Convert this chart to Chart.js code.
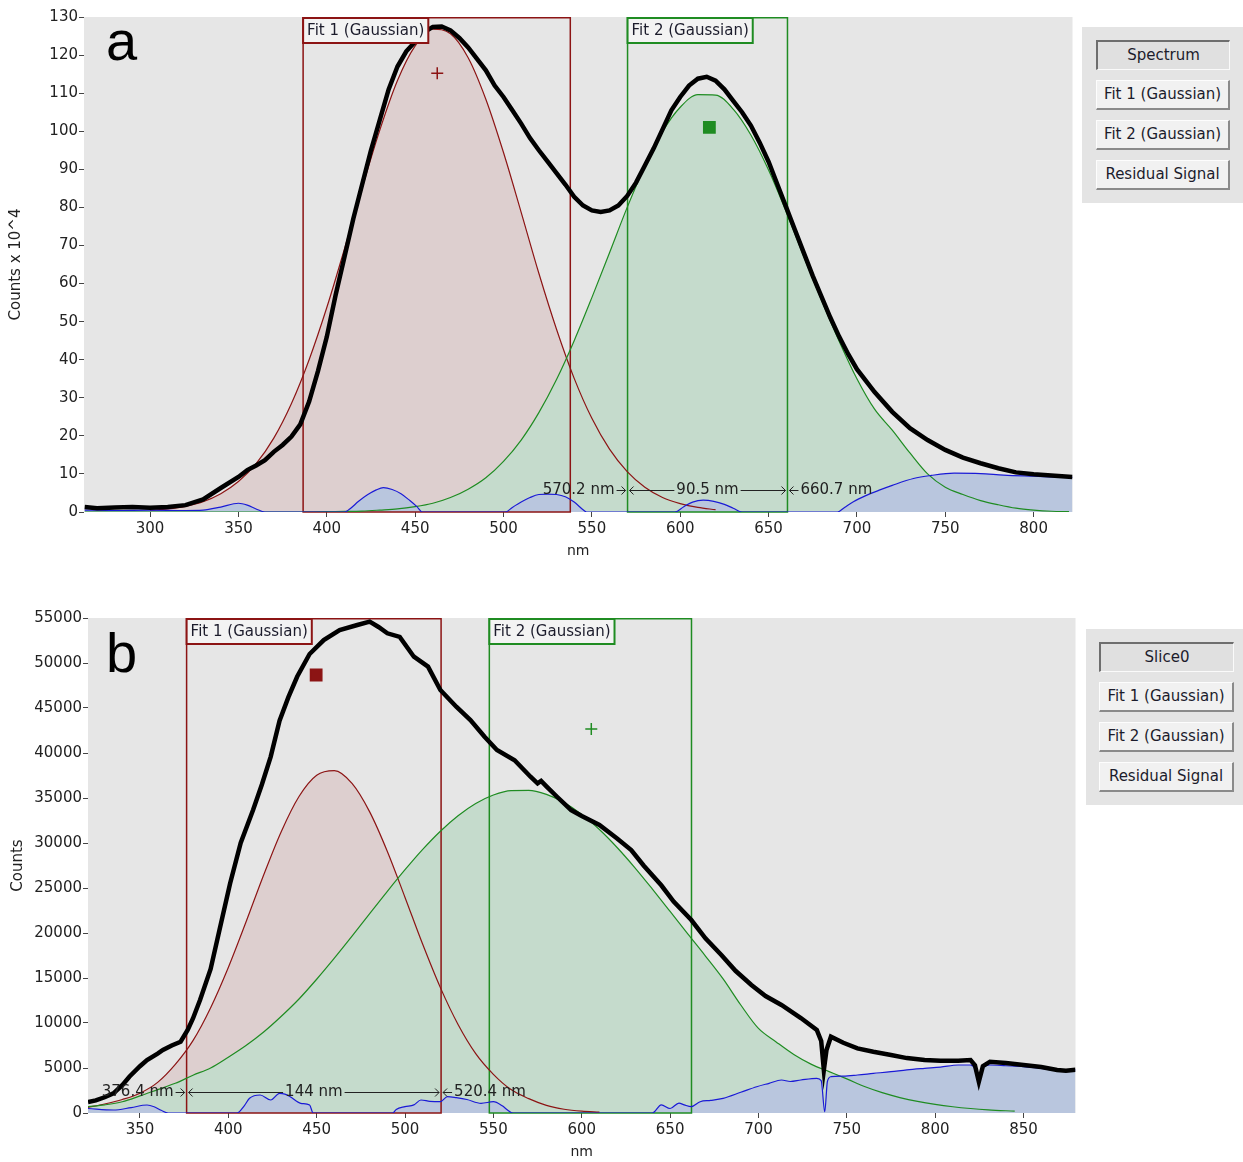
<!DOCTYPE html>
<html>
<head>
<meta charset="utf-8">
<script src="https://cdn.jsdelivr.net/npm/chart.js@4.4.1/dist/chart.umd.min.js"></script>
<style>
  body { margin: 0; background: #fff; width: 1243px; height: 1162px; position: relative; overflow: hidden; font-family: "DejaVu Sans", sans-serif; }
  .plot { position: absolute; left: 0; }
  #wrapA { top: 0; width: 1082px; height: 570px; }
  #wrapB { top: 600px; width: 1085px; height: 562px; }
  .panel { position: absolute; background: #e4e4e4; }
  #panelA { left: 1082px; top: 27px; width: 161px; height: 176px; }
  #panelB { left: 1086px; top: 629px; width: 157px; height: 176px; }
  .btn { position: absolute; height: 30px; box-sizing: border-box; text-align: center; font-size: 15px; line-height: 27px; color: #1c1c2c;
         background: #f1f1f1; border-top: 1px solid #fdfdfd; border-left: 1px solid #fdfdfd; border-right: 2px solid #8a8a8a; border-bottom: 2px solid #8a8a8a; }
  .btn.on { background: #e0e0e0; border-top: 2px solid #6e6e6e; border-left: 2px solid #6e6e6e; border-right: 1px solid #fafafa; border-bottom: 1px solid #fafafa; }
  #panelA .btn { left: 14px; width: 134px; }
  #panelB .btn { left: 13px; width: 135px; }
</style>
</head>
<body>
<div class="plot" id="wrapA"><canvas id="chartA"></canvas></div>
<div class="plot" id="wrapB"><canvas id="chartB"></canvas></div>

<div class="panel" id="panelA">
  <div class="btn on" style="top:13px">Spectrum</div>
  <div class="btn" style="top:53px">Fit 1 (Gaussian)</div>
  <div class="btn" style="top:93px">Fit 2 (Gaussian)</div>
  <div class="btn" style="top:133px">Residual Signal</div>
</div>
<div class="panel" id="panelB">
  <div class="btn on" style="top:13px">Slice0</div>
  <div class="btn" style="top:53px">Fit 1 (Gaussian)</div>
  <div class="btn" style="top:93px">Fit 2 (Gaussian)</div>
  <div class="btn" style="top:133px">Residual Signal</div>
</div>

<script>
// ---- panel a : counts x 10^4 ----
const specA_nm = [263,270,280,290,300,310,320,330,340,350,355,360,365,370,375,380,385,390,395,400,
  405,410,415,420,425,430,435,440,445,450,455,460,465,470,475,480,485,490,495,500,
  505,510,515,520,525,530,535,540,545,550,555,560,565,570,575,580,585,590,595,600,
  605,610,615,620,625,630,635,640,645,650,655,660,665,670,675,680,685,690,695,700,
  710,720,730,740,750,760,770,780,790,800,810,822];
const specA = [1.3,1.0,1.2,1.3,1.1,1.3,1.8,3.3,6.3,9.2,11.0,12.2,13.6,15.8,17.6,19.8,23.0,29,37,46,
  57,67,77,86,95,103,111,117,121,123.5,126,127.4,127.5,126.5,124.5,122,119,116,112,109,
  105.5,102,98.2,95,92,89,86,82.8,80.5,79.2,78.8,79.2,80.5,83,86.5,91,95.5,100.5,105.5,109,
  112,113.8,114.3,113.3,111,108,105,101.5,97,92,86,80,74,68,62,56.5,51,46,41.5,37.5,
  31.5,26.3,22,18.9,16.3,14.3,12.8,11.5,10.4,9.9,9.6,9.2];

const fit1A_nm = [300,310,320,330,340,350,360,370,380,390,400,410,420,430,440,450,460,470,480,490,
  500,510,520,530,540,550,560,570,580,590,600,610,620];
const fit1A = [0.4,0.8,1.5,2.7,4.8,8.0,12.7,19.4,28.5,40.0,53.7,69.1,85.1,100.3,113.3,122.4,126.8,125.6,119.3,108.4,
  94.4,78.7,62.7,48.0,35.1,24.6,16.5,10.6,6.5,3.8,2.2,1.2,0.6];

const fit2A_nm = [263,300,340,380,390,400,410,420,430,440,450,460,470,480,490,500,510,520,530,540,
  550,560,570,580,590,600,610,620,630,640,650,660,670,680,690,700,710,720,730,740,
  750,760,770,780,790,800,810,820];
const fit2A = [0,0,0,0,0,0.1,0.15,0.25,0.5,0.8,1.4,2.3,3.8,6.0,9.0,13.3,18.9,26.1,34.8,45.0,
  56.3,68.1,80.0,90.8,99.9,106.3,109.6,109.5,105.8,99.0,89.8,78.8,67.0,55.6,44.8,35.0,27.0,21.5,15.5,10.0,
  6.5,4.6,3.0,1.9,1.0,0.5,0.2,0.1];

const residA_nm = [263,280,300,320,330,340,350,355,360,365,410,413,418,423,428,432,437,442,447,451,
  454,501,505,510,515,520,525,530,535,540,545,547,597,602,607,613,619,625,630,635,
  689,693,698,705,713,720,732,742,755,770,783,800,818,822];
const residA = [0.5,0.4,0.5,0.4,0.5,1.3,2.3,1.8,0.8,0,0,0.8,2.8,4.5,5.8,6.4,5.9,4.8,3.0,1.4,
  0,0,1.2,2.6,3.8,4.6,4.7,4.6,4.0,2.6,0.6,0,0,1.4,2.6,3.1,2.8,2.0,1.0,0,
  0,1.2,2.7,4.3,5.8,7.0,8.8,9.6,10.2,10.1,9.7,9.4,9.1,9.1];

const centreA1 = [462.5, 115.2];
const centreA2 = [616.5, 101];
const windowA1 = [386.6, 537.8];
const windowA2 = [570.2, 660.7];

// ---- panel b : raw counts ----
const specB_nm = [320.6,325,330,335,340,344,350,354,360,363,368,373,377,380,384,390,395,401,407,414,
  419,424,429,434,439,446,454,463,473,480,485,490,497,505,513,520,529,537,545,552,
  562,571,575,577,580,586,594,600,610,620,628,635,645,652,662,670,679,687,696,704,
  713,724,733,735.5,737,738.5,741,748,756,765,775,784,794,803,813,820,822.5,824.7,827,831,
  840,850,860,869,874,879.4];
const specB = [1222,1400,1750,2185,3100,4033,5200,5889,6600,7000,7500,7922,9222,10500,12555,16000,20333,25500,30000,33670,
  36500,39600,43600,46200,48500,51000,52550,53660,54220,54590,54000,53300,52900,50700,49600,47000,45140,43660,41800,40330,
  39200,37360,36630,36900,36300,35140,33660,33000,32000,30500,29220,27500,25300,23500,21440,19400,17550,15800,14220,13000,
  12000,10550,9220,8000,4777,7000,8480,7800,7185,6800,6444,6100,5890,5800,5810,5890,5300,3480,5200,5700,
  5550,5330,5100,4780,4700,4800];

const fit1B_nm = [320,330,340,350,360,370,380,390,400,410,420,430,440,450,460,470,480,490,500,510,
  520,530,540,550,560,570,580,590,600,610];
const fit1B = [600,1000,1500,2200,3400,5400,8040,11700,16170,21220,26450,31290,35170,37530,38040,36620,33460,29060,23950,18740,
  13930,9840,6600,4300,2600,1600,850,420,200,100];

const fit2B_nm = [320.6,330,340,350,360,370,380,390,400,410,420,430,440,450,460,470,480,490,500,510,
  520,530,540,550,560,570,580,590,600,610,620,630,640,650,660,670,680,690,700,710,
  720,730,740,750,760,770,780,790,800,810,820,830,845];
const fit2B = [700,900,1250,1900,2600,3300,4200,5000,6200,7500,9000,10750,12670,14860,17200,19640,22150,24630,27030,29290,
  31310,33030,34390,35330,35830,35850,35400,34500,33180,31500,29500,27270,24870,22400,19900,17440,14900,12000,9400,7900,
  6500,5400,4600,3790,2940,2260,1717,1285,950,692,498,353,200];

const residB_nm = [320.6,335,345,354,358,362,366,405,409,412,418,424,429,432,435,441,446,448,493,495,
  500,505,509,514,520,524,529,535,543,550,555,558,561,640,645,650,655,658,662,667,
  673,680,690,699,706,713,718,724,733,735.5,737.5,739,741,748,756,765,775,784,794,803,
  813,820,822.5,824.7,827,831,840,850,860,869,879.4];
const residB = [500,333,600,888,700,300,0,0,800,1633,2000,1444,2185,2100,1811,1077,888,0,0,400,
  700,900,1444,1300,1255,1811,1700,1500,1077,1255,800,333,0,0,900,500,1100,900,700,1255,
  1400,1633,2300,2922,3300,3666,3500,3666,3855,3600,144,3500,4033,4100,4222,4400,4588,4800,4966,5100,
  5333,5333,4900,3666,5000,5333,5250,5150,4950,4777,4800];

const centreB1 = [449.7, 48667];
const centreB2 = [605.4, 42667];
const windowB1 = [376.4, 520.4];
const windowB2 = [547.7, 662.1];

const RED = '#8c1414', GREEN = '#1f8c22', BLUE = '#1a1ad6';

Chart.defaults.font.family = '"DejaVu Sans", sans-serif';
Chart.defaults.font.size = 15;
Chart.defaults.color = '#222';

function pts(xs, ys) {
  return xs.map((x, i) => ({x: x, y: ys[i]}));
}

// grey plot background, fit windows, their tags, the width marker and the panel letter
const fitOverlay = {
  id: 'fitOverlay',
  beforeDraw(chart) {
    const {ctx, chartArea: a} = chart;
    ctx.save();
    ctx.fillStyle = '#e6e6e6';
    ctx.fillRect(a.left, a.top, a.right - a.left, a.bottom - a.top);
    ctx.restore();
  },
  beforeDatasetsDraw(chart, args, opts) {
    const {ctx, chartArea: a, scales: {x, y}} = chart;
    const base = y.getPixelForValue(0);
    ctx.save();
    ctx.lineWidth = 1.5;
    opts.windows.forEach(w => {
      const l = x.getPixelForValue(w.range[0]), r = x.getPixelForValue(w.range[1]);
      ctx.strokeStyle = w.color;
      ctx.strokeRect(l, a.top + 0.75, r - l, base - a.top - 0.75);
    });
    ctx.restore();
  },
  afterDatasetsDraw(chart, args, opts) {
    const {ctx, chartArea: a, scales: {x, y}} = chart;
    ctx.save();
    ctx.font = '15px "DejaVu Sans"';
    ctx.textBaseline = 'middle';
    // tags on the fit windows
    opts.windows.forEach(w => {
      const l = x.getPixelForValue(w.range[0]);
      const tw = ctx.measureText(w.label).width + 8;
      ctx.fillStyle = '#f3f3f3';
      ctx.fillRect(l, a.top, tw, 26);
      ctx.strokeStyle = w.color;
      ctx.lineWidth = 2;
      ctx.strokeRect(l, a.top + 1, tw, 25);
      ctx.fillStyle = '#1c1c2c';
      ctx.textAlign = 'left';
      ctx.fillText(w.label, l + 4, a.top + 14);
    });

    // width marker between the two window edges
    const s = opts.span;
    const l = x.getPixelForValue(s.range[0]), r = x.getPixelForValue(s.range[1]);
    const yy = Math.round(y.getPixelForValue(s.level)) + 0.5;
    const width = Number((s.range[1] - s.range[0]).toFixed(1));
    ctx.strokeStyle = '#222';
    ctx.fillStyle = '#222';
    ctx.lineWidth = 1;
    const chevron = (px, dir) => {
      ctx.beginPath();
      ctx.moveTo(px - 4 * dir, yy - 4);
      ctx.lineTo(px, yy);
      ctx.lineTo(px - 4 * dir, yy + 4);
      ctx.stroke();
    };
    const seg = (x0, x1) => {
      ctx.beginPath(); ctx.moveTo(x0, yy); ctx.lineTo(x1, yy); ctx.stroke();
    };
    seg(l - 11, l - 2); chevron(l - 2, 1);
    seg(r + 2, r + 11); chevron(r + 2, -1);
    const mid = (l + r) / 2;
    const label = width + ' nm';
    const lw = ctx.measureText(label).width;
    seg(l + 2, mid - lw / 2 - 2); chevron(l + 2, -1);
    seg(mid + lw / 2 + 2, r - 2); chevron(r - 2, 1);
    ctx.textAlign = 'center';
    ctx.fillText(label, mid, yy);
    ctx.textAlign = 'right';
    ctx.fillText(s.range[0].toFixed(1) + ' nm', l - 13, yy);
    ctx.textAlign = 'left';
    ctx.fillText(s.range[1].toFixed(1) + ' nm', r + 13, yy);

    // panel letter
    ctx.font = '56px "Liberation Sans"';
    ctx.textAlign = 'left';
    ctx.textBaseline = 'alphabetic';
    ctx.fillStyle = '#000';
    ctx.fillText(opts.letter.text, a.left + opts.letter.dx, a.top + opts.letter.dy);
    ctx.restore();
  }
};

function buildChart(id, cfg) {
  const line = (data, color, width, order, fillColor) => ({
    data: data,
    borderColor: color,
    borderWidth: width,
    backgroundColor: fillColor || 'transparent',
    fill: fillColor ? 'origin' : false,
    pointRadius: 0,
    cubicInterpolationMode: fillColor && width < 2 ? 'monotone' : 'default',
    tension: 0,
    order: order
  });
  return new Chart(document.getElementById(id), {
    type: 'line',
    data: {
      datasets: [
        line(cfg.spectrum, '#000', 4.5, 0),
        line(cfg.resid, BLUE, 1.2, 1, '#b9c6de'),
        line(cfg.fit2, GREEN, 1.2, 2, '#c5dbcc'),
        line(cfg.fit1, RED, 1.2, 3, '#ddcfcf'),
        {
          data: [{x: cfg.mark1[0], y: cfg.mark1[1]}],
          showLine: false, pointStyle: cfg.mark1Style, pointRadius: cfg.mark1Style === 'rect' ? 8 : 6,
          borderWidth: 1.5, borderColor: RED, backgroundColor: RED, order: -1
        },
        {
          data: [{x: cfg.mark2[0], y: cfg.mark2[1]}],
          showLine: false, pointStyle: cfg.mark2Style, pointRadius: cfg.mark2Style === 'rect' ? 8 : 6,
          borderWidth: 1.5, borderColor: GREEN, backgroundColor: GREEN, order: -1
        }
      ]
    },
    options: {
      responsive: true,
      maintainAspectRatio: false,
      animation: false,
      layout: { padding: cfg.padding },
      plugins: {
        legend: { display: false },
        tooltip: { enabled: false },
        filler: { drawTime: 'beforeDatasetsDraw' },
        fitOverlay: {
          windows: [
            { range: cfg.win1, color: RED, label: 'Fit 1 (Gaussian)' },
            { range: cfg.win2, color: GREEN, label: 'Fit 2 (Gaussian)' }
          ],
          span: cfg.span,
          letter: cfg.letter
        }
      },
      scales: {
        x: {
          type: 'linear',
          min: cfg.xMin, max: cfg.xMax,
          afterFit: s => { s.height = cfg.xHeight; },
          border: { display: false },
          grid: { drawOnChartArea: false, tickLength: 5, color: '#444' },
          ticks: { stepSize: 50, includeBounds: false, padding: 3, maxRotation: 0, callback: v => String(v) },
          title: { display: true, text: 'nm', font: { size: 14 }, padding: { top: 0, bottom: cfg.nmPad } }
        },
        y: {
          min: 0, max: cfg.yMax,
          afterFit: s => { s.width = cfg.yWidth; },
          border: { display: false },
          grid: { drawOnChartArea: false, tickLength: 5, color: '#444' },
          ticks: { stepSize: cfg.yStep, padding: 1, callback: v => String(v) },
          title: { display: true, text: cfg.yTitle, padding: { top: cfg.yTitlePad, bottom: 0 } }
        }
      }
    },
    plugins: [fitOverlay]
  });
}

buildChart('chartA', {
  spectrum: pts(specA_nm, specA),
  fit1: pts(fit1A_nm, fit1A),
  fit2: pts(fit2A_nm, fit2A),
  resid: pts(residA_nm, residA),
  mark1: centreA1, mark1Style: 'cross',
  mark2: centreA2, mark2Style: 'rect',
  win1: windowA1, win2: windowA2,
  span: { range: windowA2, level: 5.8 },
  letter: { text: 'a', dx: 22, dy: 43 },
  xMin: 262.6, xMax: 822, yMax: 130, yStep: 10,
  yTitle: 'Counts x 10^4',
  padding: { top: 17, right: 4, left: 0, bottom: 0 },
  xHeight: 58, yWidth: 84, nmPad: 10, yTitlePad: 7
});

buildChart('chartB', {
  spectrum: pts(specB_nm, specB),
  fit1: pts(fit1B_nm, fit1B),
  fit2: pts(fit2B_nm, fit2B),
  resid: pts(residB_nm, residB),
  mark1: centreB1, mark1Style: 'rect',
  mark2: centreB2, mark2Style: 'cross',
  win1: windowB1, win2: windowB2,
  span: { range: windowB1, level: 2333 },
  letter: { text: 'b', dx: 18, dy: 54 },
  xMin: 320.6, xMax: 879.4, yMax: 55000, yStep: 5000,
  yTitle: 'Counts',
  padding: { top: 18, right: 5, left: 0, bottom: 0 },
  xHeight: 49, yWidth: 88, nmPad: 1, yTitlePad: 9
});
</script>
</body>
</html>
